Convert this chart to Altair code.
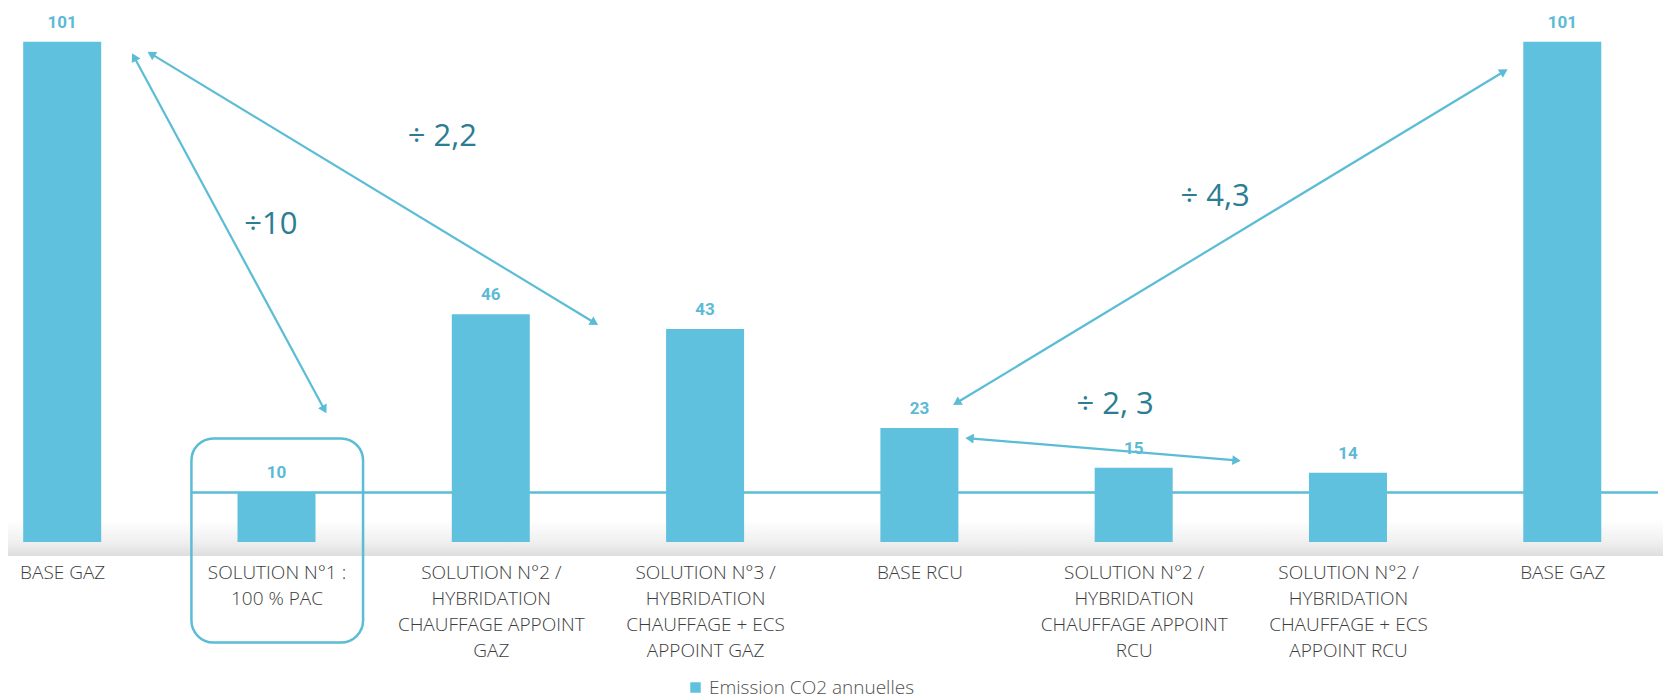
import math
import json
import altair as alt
import pandas as pd

# ---------------- data ----------------
labels = [
    ["BASE GAZ"],
    ["SOLUTION N°1 :", "100 % PAC"],
    ["SOLUTION N°2 /", "HYBRIDATION", "CHAUFFAGE APPOINT", "GAZ"],
    ["SOLUTION N°3 /", "HYBRIDATION", "CHAUFFAGE + ECS", "APPOINT GAZ"],
    ["BASE RCU"],
    ["SOLUTION N°2 /", "HYBRIDATION", "CHAUFFAGE APPOINT", "RCU"],
    ["SOLUTION N°2 /", "HYBRIDATION", "CHAUFFAGE + ECS", "APPOINT RCU"],
    ["BASE GAZ"],
]
values = [101, 10, 46, 43, 23, 15, 14, 101]
series_name = "Emission CO2 annuelles"

# annotation arrows (category index, value) for both ends
arrow_x1 = [0.326, 0.398, 4.157, 4.214]
arrow_y1 = [98.67, 98.99, 27.66, 21.0]
arrow_x2 = [1.233, 2.501, 6.745, 5.500]
arrow_y2 = [25.98, 43.81, 95.44, 16.41]

ann_text = ["÷10", "÷ 2,2", "÷ 4,3", "÷ 2, 3"]
ann_x = [0.974, 1.774, 5.380, 4.913]
ann_y = [64.0, 81.8, 69.7, 27.7]

# highlight box around solution 1
box_x = [0.603]
box_x2 = [1.404]
box_y = [20.9]
box_y2 = [-20.3]

# ---------------- layout / style ----------------
W, H = 1655, 534
X0, X1 = -0.2296, 7.4467
Y0, Y1 = 0.0, 107.81
PXI = W / (X1 - X0)
PXV = H / (Y1 - Y0)

BAR = "#5fc1dd"
LINE = "#5bbcd6"
ANN = "#2b7d93"
LAB = "#3c3c3c"

xs = alt.Scale(domain=[X0, X1], nice=False, zero=False)
ys = alt.Scale(domain=[Y0, Y1], nice=False, zero=False)

label_expr = json.dumps(labels, ensure_ascii=False) + "[round(datum.value)]"
X_AX = alt.Axis(
    values=list(range(len(values))), labelExpr=label_expr, title=None,
    domain=False, ticks=False, tickSize=0, grid=False,
    labelFlush=False, labelOverlap=False, labelBound=False,
    labelPadding=21, labelFont="Open Sans", labelFontSize=19,
    labelFontWeight=300, labelColor=LAB, labelLineHeight=26,
    labelAlign="center", labelBaseline="top", labelLimit=0,
)

bars_df = pd.DataFrame({"i": list(range(len(values))), "v": values,
                        "serie": [series_name] * len(values)})

# arrows: segments + heads
HEAD_BACK = 4.3
seg_rows, head_rows = [], []
for xa, ya, xb, yb in zip(arrow_x1, arrow_y1, arrow_x2, arrow_y2):
    ends = []
    for (xt, yt, xo, yo) in [(xa, ya, xb, yb), (xb, yb, xa, ya)]:
        dx = (xt - xo) * PXI
        dy = -(yt - yo) * PXV
        L = math.hypot(dx, dy)
        ux, uy = dx / L, dy / L
        ang = math.degrees(math.atan2(ux, -uy)) % 360
        cx = xt - ux * HEAD_BACK / PXI
        cy = yt + uy * HEAD_BACK / PXV
        head_rows.append({"x": cx, "y": cy, "ang": ang})
        ends.append((cx, cy))
    seg_rows.append({"x": ends[0][0], "y": ends[0][1], "x2": ends[1][0], "y2": ends[1][1]})
seg_df = pd.DataFrame(seg_rows)
head_df = pd.DataFrame(head_rows)
ann_df = pd.DataFrame({"x": ann_x, "y": ann_y, "t": ann_text})
box_df = pd.DataFrame({"x": box_x, "x2": box_x2, "y": box_y, "y2": box_y2})
hline_df = pd.DataFrame({"x": box_x, "x2": [X1], "y": [values[1]]})

# ---------------- layers ----------------
shadow = alt.Chart(pd.DataFrame({"a": [0]})).mark_rect(
    color=alt.Gradient(
        gradient="linear",
        stops=[alt.GradientStop(color="#ffffff", offset=0),
               alt.GradientStop(color="#f0f0f0", offset=0.6),
               alt.GradientStop(color="#dedede", offset=1)],
        x1=0, x2=0, y1=0, y2=1,
    )
).encode(x=alt.value(0), x2=alt.value(W), y=alt.value(H - 22), y2=alt.value(H + 14))

hline = alt.Chart(hline_df).mark_rule(color=LINE, strokeWidth=2.5).encode(
    x=alt.X("x:Q", scale=xs, axis=X_AX), x2="x2:Q",
    y=alt.Y("y:Q", scale=ys, axis=None),
)

box = alt.Chart(box_df).mark_rect(
    fillOpacity=0, stroke=LINE, strokeWidth=2.5, cornerRadius=22
).encode(
    x=alt.X("x:Q", scale=xs, axis=X_AX), x2="x2:Q",
    y=alt.Y("y:Q", scale=ys, axis=None), y2="y2:Q",
)

bars = alt.Chart(bars_df).mark_bar(width=78).encode(
    x=alt.X("i:Q", scale=xs, axis=X_AX),
    y=alt.Y("v:Q", scale=ys, axis=None),
    color=alt.Color("serie:N", scale=alt.Scale(range=[BAR]), legend=alt.Legend(
        title=None, orient="none", legendX=678, legendY=670, symbolType="square",
        symbolSize=110, symbolStrokeWidth=0, labelFont="Open Sans", labelFontSize=19,
        labelFontWeight=300, labelColor="#505050", padding=0, labelLimit=0)),
)

vlabels = alt.Chart(bars_df).mark_text(
    dy=-19, font="Roboto", fontWeight="bold", fontSize=17, color="#5cbad6"
).encode(
    x=alt.X("i:Q", scale=xs, axis=X_AX),
    y=alt.Y("v:Q", scale=ys, axis=None),
    text="v:Q",
)

segs = alt.Chart(seg_df).mark_rule(color=LINE, strokeWidth=2.2).encode(
    x=alt.X("x:Q", scale=xs, axis=X_AX), x2="x2:Q",
    y=alt.Y("y:Q", scale=ys, axis=None), y2="y2:Q",
)

heads = alt.Chart(head_df).mark_point(
    shape="triangle-up", filled=True, size=95, color=LINE, opacity=1
).encode(
    x=alt.X("x:Q", scale=xs, axis=X_AX),
    y=alt.Y("y:Q", scale=ys, axis=None),
    angle=alt.Angle("ang:Q", scale=None),
)

anns = alt.Chart(ann_df).mark_text(
    font="Open Sans", fontSize=31, color=ANN, align="center", baseline="middle"
).encode(
    x=alt.X("x:Q", scale=xs, axis=X_AX),
    y=alt.Y("y:Q", scale=ys, axis=None),
    text="t:N",
)

chart = alt.layer(shadow, hline, box, bars, vlabels, segs, heads, anns).properties(
    width=W, height=H, padding=0
).configure_view(stroke=None)

chart.save("out.html", embed_options={"renderer": "svg", "actions": False})
